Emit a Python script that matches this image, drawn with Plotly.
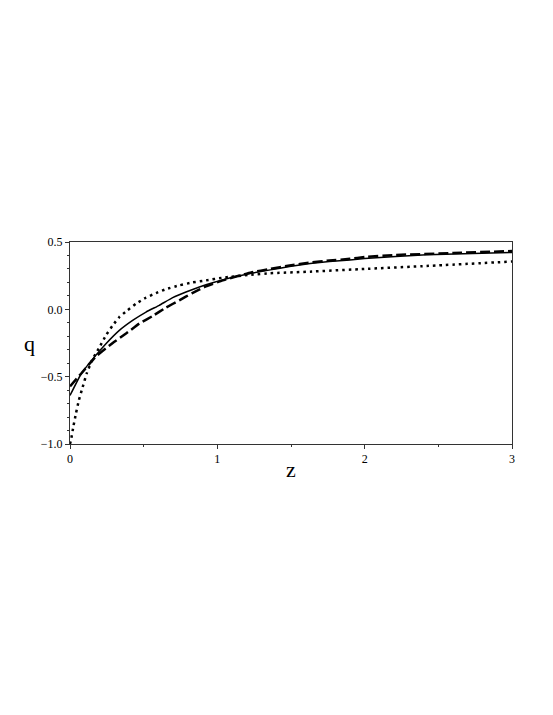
# q(z) のグラフ
import plotly.graph_objects as go

# 実線
z_solid = [0, 0.075, 0.176, 0.244, 0.335, 0.425, 0.516, 0.606, 0.697, 0.787, 0.878,
           0.968, 1.09, 1.23, 1.36, 1.49, 1.63, 1.76, 1.9, 2.0, 2.42, 3.0]
q_solid = [-0.64, -0.48, -0.34, -0.255, -0.156, -0.082, -0.02, 0.03, 0.087, 0.129, 0.166,
           0.198, 0.235, 0.268, 0.293, 0.318, 0.34, 0.355, 0.367, 0.378, 0.405, 0.422]

# 破線
z_dash = [0, 0.075, 0.176, 0.29, 0.38, 0.47, 0.56, 0.65, 0.742, 0.83, 0.923,
          1.036, 1.23, 1.36, 1.49, 1.63, 1.76, 1.9, 2.0, 2.2, 2.6, 3.0]
q_dash = [-0.572, -0.478, -0.35, -0.25, -0.18, -0.106, -0.05, 0.012, 0.067, 0.121, 0.17,
          0.215, 0.274, 0.3, 0.325, 0.347, 0.362, 0.375, 0.388, 0.403, 0.418, 0.433]

# 点線
z_dot = [0, 0.007, 0.023, 0.04, 0.06, 0.086, 0.113, 0.149, 0.195, 0.244, 0.29, 0.335,
         0.39, 0.448, 0.516, 0.584, 0.65, 0.742, 0.833, 0.923, 1.036, 1.23, 1.36,
         1.63, 2.0, 2.42, 3.0]
q_dot = [-1.0, -0.97, -0.87, -0.775, -0.676, -0.577, -0.478, -0.379, -0.292, -0.193, -0.119, -0.057,
         -0.007, 0.042, 0.087, 0.121, 0.149, 0.178, 0.2, 0.215, 0.235, 0.257, 0.268,
         0.28, 0.30, 0.322, 0.355]

# 目盛り
x_ticks = [0, 1, 2, 3]
y_ticks = [-1.0, -0.5, 0.0, 0.5]

serif = 'Liberation Serif'
axis_color = '#333'

fig = go.Figure()
fig.add_trace(go.Scatter(x=z_solid, y=q_solid, mode='lines',
                         line=dict(color='black', width=1.5, shape='spline', smoothing=0.3)))
fig.add_trace(go.Scatter(x=z_dash, y=q_dash, mode='lines',
                         line=dict(color='black', width=2.5, dash='10px,4px', shape='spline', smoothing=0.3)))
fig.add_trace(go.Scatter(x=z_dot, y=q_dot, mode='lines',
                         line=dict(color='black', width=2.5, dash='2.5px,4px', shape='spline', smoothing=0.3)))

# グラフの装飾（ページ余白8pxを考慮）
fig.update_layout(
    width=553, height=715,
    paper_bgcolor='white', plot_bgcolor='white',
    showlegend=False,
    font=dict(family=serif, size=12, color='black'),
    margin=dict(l=62, r=49, t=234, b=279),
    xaxis=dict(range=[0, 3], tickvals=x_ticks, ticktext=[str(v) for v in x_ticks],
               showgrid=False, zeroline=False,
               showline=True, linecolor=axis_color, linewidth=1, mirror=True,
               ticks='outside', ticklen=4, tickcolor=axis_color,
               tickfont=dict(family=serif, size=12),
               minor=dict(ticks='outside', ticklen=2, dtick=0.5, tickcolor=axis_color, showgrid=False)),
    yaxis=dict(range=[-1, 0.5], tickvals=y_ticks, tickformat='.1f',
               showgrid=False, zeroline=False,
               showline=True, linecolor=axis_color, linewidth=1, mirror=True,
               ticks='outside', ticklen=4, tickcolor=axis_color,
               tickfont=dict(family=serif, size=12),
               minor=dict(ticks='outside', ticklen=2, dtick=0.1, tickcolor=axis_color, showgrid=False)),
)

# 軸ラベル
fig.add_annotation(text='q', xref='paper', yref='paper', x=-0.0905, y=0.5,
                   xanchor='center', yanchor='middle',
                   showarrow=False, font=dict(family=serif, size=22))
fig.add_annotation(text='z', xref='paper', yref='paper', x=0.5, y=-0.128,
                   xanchor='center', yanchor='middle',
                   showarrow=False, font=dict(family=serif, size=22))

fig.write_html("out.html")
